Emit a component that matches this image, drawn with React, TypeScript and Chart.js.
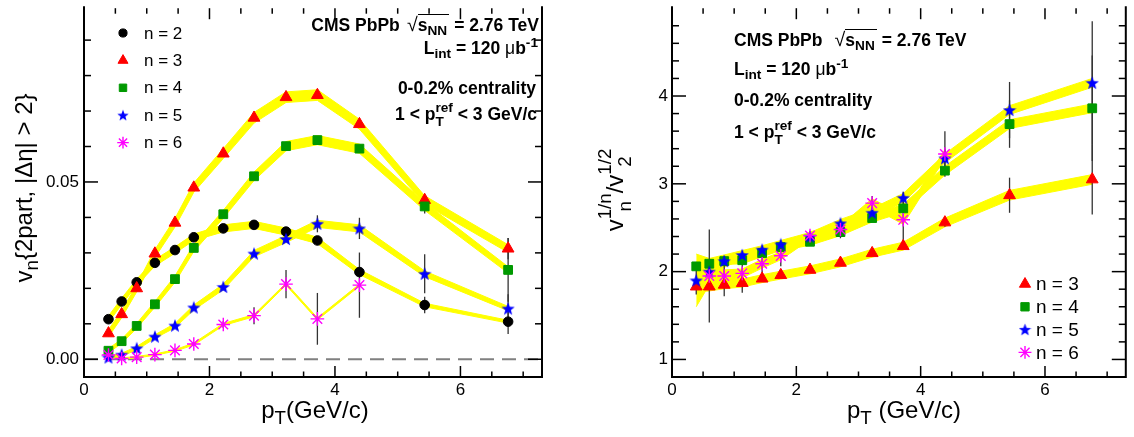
import React, { useEffect, useRef } from 'react';
import { Chart, registerables, PointElement } from 'chart.js';

Chart.register(...registerables);

const FONT = '"Liberation Sans", Arial, Helvetica, sans-serif';

// ---------------- data: left panel, v_n{2part, |dEta|>2} ----------------
const PT = [0.39, 0.6, 0.84, 1.13, 1.45, 1.75, 2.22, 2.71, 3.22, 3.72, 4.39, 5.43, 6.76];
const PT_N6_LEFT = [0.39, 0.6, 0.84, 1.13, 1.45, 1.75, 2.22, 2.71, 3.22, 3.72, 4.39];

const V2 = [0.0113, 0.0163, 0.0217, 0.0272, 0.0308, 0.0344, 0.0369, 0.0379, 0.0360, 0.0335, 0.0246, 0.0153, 0.0106];
const V3 = [0.0073, 0.0127, 0.0200, 0.0298, 0.0385, 0.0484, 0.0580, 0.0681, 0.0739, 0.0745, 0.0663, 0.0449, 0.0312];
const V4 = [0.0024, 0.0051, 0.0094, 0.0155, 0.0226, 0.0314, 0.0409, 0.0516, 0.0601, 0.0618, 0.0594, 0.0431, 0.0252];
const V5 = [0.0005, 0.0013, 0.0031, 0.0064, 0.0095, 0.0146, 0.0204, 0.0298, 0.0339, 0.0382, 0.0369, 0.0241, 0.0143];
const V6 = [0.0012, 0.0002, 0.0006, 0.0013, 0.0025, 0.0043, 0.0098, 0.0123, 0.0212, 0.0114, 0.0209];

const V2_STAT = [0, 0, 0, 0, 0, 0, 0, 0, 0, 0, 0.0008, 0.0023, 0.0035];
const V3_STAT = [0, 0, 0, 0, 0, 0, 0, 0, 0, 0, 0.0005, 0.001, 0.003];
const V4_STAT = [0, 0, 0, 0, 0, 0, 0, 0, 0, 0, 0.001, 0.002, 0.009];
const V5_STAT = [0, 0, 0, 0, 0, 0, 0, 0, 0, 0.0024, 0.003, 0.0055, 0.004];
const V6_STAT = [0, 0, 0, 0, 0, 0, 0.001, 0.0024, 0.004, 0.0073, 0.0092];

const V2_SYS = [0.0009, 0.0009, 0.0009, 0.0009, 0.0009, 0.0009, 0.001, 0.001, 0.001, 0.0009, 0.0007, 0.0005, 0.0004];
const V3_SYS = [0.001, 0.001, 0.001, 0.0011, 0.0012, 0.0013, 0.0014, 0.0015, 0.0015, 0.0015, 0.0014, 0.0012, 0.0011];
const V4_SYS = [0.0006, 0.0006, 0.0007, 0.0008, 0.0009, 0.001, 0.0011, 0.0012, 0.0013, 0.0013, 0.0013, 0.0011, 0.0009];
const V5_SYS = [0.0004, 0.0004, 0.0005, 0.0005, 0.0006, 0.0007, 0.0008, 0.0009, 0.001, 0.001, 0.001, 0.0008, 0.0006];
const V6_SYS = [0.0002, 0.0002, 0.0002, 0.0002, 0.0002, 0.0003, 0.0003, 0.0003, 0.0003, 0.0003, 0.0003];

// ---------------- data: right panel, v_n^{1/n}/v_2^{1/2} ----------------
const PT_N6_RIGHT = [0.6, 0.84, 1.13, 1.45, 1.75, 2.22, 2.71, 3.22, 3.72, 4.39];

const R3 = [1.83, 1.83, 1.85, 1.87, 1.92, 1.96, 2.02, 2.10, 2.21, 2.29, 2.56, 2.87, 3.05];
const R4 = [2.06, 2.09, 2.12, 2.13, 2.21, 2.28, 2.34, 2.45, 2.61, 2.72, 3.15, 3.68, 3.86];
const R5 = [1.90, 2.00, 2.12, 2.19, 2.25, 2.31, 2.40, 2.55, 2.67, 2.84, 3.29, 3.84, 4.15];
const R6 = [1.95, 1.95, 1.98, 2.09, 2.18, 2.41, 2.48, 2.78, 2.59, 3.34];

const R3_STAT = [0, 0, 0, 0, 0, 0, 0, 0, 0, 0, 0.05, 0.2, 0.4];
const R4_STAT = [0, 0, 0, 0, 0, 0, 0, 0, 0, 0, 0, 0.27, 0.6];
const R5_STAT = [0.16, 0, 0, 0, 0, 0, 0, 0, 0, 0.07, 0.1, 0.32, 0.7];
const R6_STAT = [0.53, 0.23, 0.22, 0.16, 0.12, 0.05, 0.1, 0.08, 0.3, 0.26];

const R3_SYS = [0.06, 0.05, 0.045, 0.045, 0.045, 0.045, 0.045, 0.045, 0.045, 0.045, 0.05, 0.055, 0.055];
const R4_SYS = [0.05, 0.045, 0.04, 0.04, 0.04, 0.04, 0.04, 0.04, 0.045, 0.045, 0.05, 0.05, 0.05];
const R5_SYS = [0.30, 0.15, 0.07, 0.05, 0.045, 0.045, 0.045, 0.045, 0.05, 0.05, 0.05, 0.05, 0.05];
const R6_SYS = [0.10, 0.07, 0.05, 0.05, 0.045, 0.045, 0.045, 0.05, 0.05, 0.05];

// ---------------- ticks ----------------
const X_MAJOR = [0, 2, 4, 6];
const X_MINOR = [0.5, 1, 1.5, 2.5, 3, 3.5, 4.5, 5, 5.5, 6.5, 7];
const LEFT_Y_MAJOR = [0, 0.05];
const LEFT_Y_MINOR = [0.01, 0.02, 0.03, 0.04, 0.06, 0.07, 0.08, 0.09];
const RIGHT_Y_MAJOR = [1, 2, 3, 4];
const RIGHT_Y_MINOR = [1.2, 1.4, 1.6, 1.8, 2.2, 2.4, 2.6, 2.8, 3.2, 3.4, 3.6, 3.8, 4.2, 4.4, 4.6, 4.8];
const ZERO_LINE = 0;

const LEFT_SERIES = [
  { n: 2, label: 'n = 2', x: PT, y: V2, stat: V2_STAT, sys: V2_SYS },
  { n: 3, label: 'n = 3', x: PT, y: V3, stat: V3_STAT, sys: V3_SYS },
  { n: 4, label: 'n = 4', x: PT, y: V4, stat: V4_STAT, sys: V4_SYS },
  { n: 5, label: 'n = 5', x: PT, y: V5, stat: V5_STAT, sys: V5_SYS },
  { n: 6, label: 'n = 6', x: PT_N6_LEFT, y: V6, stat: V6_STAT, sys: V6_SYS },
];
const RIGHT_SERIES = [
  { n: 3, label: 'n = 3', x: PT, y: R3, stat: R3_STAT, sys: R3_SYS },
  { n: 4, label: 'n = 4', x: PT, y: R4, stat: R4_STAT, sys: R4_SYS },
  { n: 5, label: 'n = 5', x: PT, y: R5, stat: R5_STAT, sys: R5_SYS },
  { n: 6, label: 'n = 6', x: PT_N6_RIGHT, y: R6, stat: R6_STAT, sys: R6_SYS },
];

// ---------------- styles ----------------
const YELLOW = '#ffff00';
const COLORS: Record<number, string> = { 2: '#000000', 3: '#ff0000', 4: '#009900', 5: '#0000ff', 6: '#ff00ff' };

function starCanvas(size: number, color: string) {
  const c = document.createElement('canvas');
  c.width = size;
  c.height = size;
  const g = c.getContext('2d')!;
  const R = size / 2;
  const r = R * 0.42;
  const cy = R * 1.08;
  g.beginPath();
  for (let i = 0; i < 10; i++) {
    const a = -Math.PI / 2 + (i * Math.PI) / 5;
    const rr = i % 2 === 0 ? R : r;
    g.lineTo(R + rr * Math.cos(a), cy + rr * Math.sin(a));
  }
  g.closePath();
  g.fillStyle = color;
  g.fill();
  return c;
}

function markerStyle(n: number, scale: number, star: HTMLCanvasElement) {
  const color = COLORS[n];
  switch (n) {
    case 2: return { pointStyle: 'circle', radius: 4.8 * scale, borderWidth: 1, color };
    case 3: return { pointStyle: 'triangle', radius: 6.8 * scale, borderWidth: 1, color };
    case 4: return { pointStyle: 'rect', radius: 6.2 * scale, borderWidth: 1, color };
    case 5: return { pointStyle: star, radius: 6.5 * scale, borderWidth: 0, color };
    default: return { pointStyle: 'star', radius: 6.8 * scale, borderWidth: 1.4, color };
  }
}

type PanelCfg = {
  left: number;
  width: number;
  padRight: number;
  yAxisWidth: number;
  yMin: number;
  yMax: number;
  yMajor: number[];
  yMinor: number[];
  yDecimals: number;
  yPad: number;
  series: typeof LEFT_SERIES;
  zeroLine: boolean;
  legend: { mx: number; tx: number; y0: number; dy: number; font: number; scale: number };
};

function buildConfig(cfg: PanelCfg) {
  const star = starCanvas(14, COLORS[5]);
  const starLegend = starCanvas(Math.round(14 * cfg.legend.scale), COLORS[5]);
  const bands: any[] = [];
  const markers: any[] = [];
  cfg.series.forEach((s) => {
    const upper = s.x.map((x, i) => ({ x, y: s.y[i] + s.sys[i] }));
    const lower = s.x.map((x, i) => ({ x, y: s.y[i] - s.sys[i] }));
    bands.push({ data: upper, borderColor: YELLOW, borderWidth: 1, pointRadius: 0, fill: false, tension: 0, order: 20, isBand: true });
    bands.push({ data: lower, borderColor: YELLOW, borderWidth: 1, pointRadius: 0, fill: '-1', backgroundColor: YELLOW, tension: 0, order: 20, isBand: true });
    const st = markerStyle(s.n, 1, star);
    markers.push({
      label: s.label,
      data: s.x.map((x, i) => ({ x, y: s.y[i] })),
      showLine: false,
      pointStyle: st.pointStyle,
      pointRadius: st.radius,
      pointBackgroundColor: st.color,
      pointBorderColor: st.color,
      pointBorderWidth: st.borderWidth,
      order: 10 - s.n,
      clip: false,
    });
  });
  const bandTotal = bands.length;
  let bandCount = 0;

  const panelPlugin = {
    id: 'panelDecor',
    beforeDatasetsDraw(chart: any) {
      bandCount = 0;
      if (cfg.zeroLine) {
        const { ctx, chartArea: a, scales } = chart;
        const py = scales.y.getPixelForValue(ZERO_LINE);
        ctx.save();
        ctx.strokeStyle = '#808080';
        ctx.lineWidth = 2.2;
        ctx.setLineDash([14, 8]);
        ctx.beginPath();
        ctx.moveTo(a.left, py);
        ctx.lineTo(a.right, py);
        ctx.stroke();
        ctx.restore();
      }
    },
    afterDatasetDraw(chart: any, args: any) {
      const ds = chart.data.datasets[args.index];
      if (!ds.isBand) return;
      bandCount++;
      if (bandCount !== bandTotal) return;
      const { ctx, scales } = chart;
      ctx.save();
      ctx.strokeStyle = '#333333';
      ctx.lineWidth = 1.3;
      cfg.series.forEach((s) => {
        s.x.forEach((x, i) => {
          const e = s.stat[i];
          if (!e) return;
          const px = scales.x.getPixelForValue(x);
          ctx.beginPath();
          ctx.moveTo(px, scales.y.getPixelForValue(s.y[i] - e));
          ctx.lineTo(px, scales.y.getPixelForValue(s.y[i] + e));
          ctx.stroke();
        });
      });
      ctx.restore();
    },
    afterDraw(chart: any) {
      const { ctx, chartArea: a, scales } = chart;
      ctx.save();
      ctx.strokeStyle = '#000000';
      ctx.lineWidth = 1.5;
      const line = (x1: number, y1: number, x2: number, y2: number) => {
        ctx.beginPath();
        ctx.moveTo(x1, y1);
        ctx.lineTo(x2, y2);
        ctx.stroke();
      };
      const xTick = (v: number, len: number) => {
        const px = scales.x.getPixelForValue(v);
        line(px, a.bottom, px, a.bottom - len);
        line(px, a.top, px, a.top + len);
      };
      const yTick = (v: number, len: number) => {
        const py = scales.y.getPixelForValue(v);
        line(a.left, py, a.left + len, py);
        line(a.right, py, a.right - len, py);
      };
      X_MAJOR.forEach((v) => xTick(v, 11));
      X_MINOR.forEach((v) => xTick(v, 5.5));
      cfg.yMajor.forEach((v) => yTick(v, 14));
      cfg.yMinor.forEach((v) => yTick(v, 7));
      // frame: the top edge sits just above the visible canvas, as in the reference
      ctx.lineWidth = 2;
      ctx.beginPath();
      ctx.moveTo(a.left, a.top - 2);
      ctx.lineTo(a.left, a.bottom);
      ctx.lineTo(a.right, a.bottom);
      ctx.lineTo(a.right, a.top - 2);
      ctx.stroke();

      // legend
      const L = cfg.legend;
      cfg.series.forEach((s, i) => {
        const y = L.y0 + i * L.dy;
        const st = markerStyle(s.n, L.scale, starLegend);
        const el: any = new PointElement({
          x: L.mx,
          y,
          options: {
            pointStyle: st.pointStyle,
            radius: st.radius,
            borderWidth: st.borderWidth,
            backgroundColor: st.color,
            borderColor: st.color,
            rotation: 0,
            hitRadius: 0,
            hoverRadius: 0,
            hoverBorderWidth: 0,
          },
        } as any);
        el.draw(ctx, undefined);
        ctx.fillStyle = '#000000';
        ctx.font = `${L.font}px ${FONT}`;
        ctx.textAlign = 'left';
        ctx.textBaseline = 'middle';
        ctx.fillText(s.label, L.tx, y + 1);
      });
      ctx.restore();
    },
  };

  return {
    type: 'line' as const,
    data: { datasets: [...bands, ...markers] },
    plugins: [panelPlugin],
    options: {
      responsive: true,
      maintainAspectRatio: false,
      animation: false as const,
      events: [],
      layout: { padding: { left: 0, right: cfg.padRight, top: 0, bottom: 0 } },
      plugins: { legend: { display: false }, tooltip: { enabled: false } },
      scales: {
        x: {
          type: 'linear' as const,
          min: 0,
          max: 7.3,
          grid: { display: false, drawTicks: false },
          border: { display: false },
          afterBuildTicks: (s: any) => { s.ticks = X_MAJOR.map((v) => ({ value: v })); },
          afterFit: (s: any) => { s.height = 60; s.paddingLeft = 0; s.paddingRight = 0; },
          ticks: {
            font: { family: FONT, size: 17 },
            color: '#000000',
            padding: 3,
            maxRotation: 0,
            autoSkip: false,
            callback: (v: any) => String(v),
          },
        },
        y: {
          type: 'linear' as const,
          min: cfg.yMin,
          max: cfg.yMax,
          grid: { display: false, drawTicks: false },
          border: { display: false },
          afterBuildTicks: (s: any) => { s.ticks = cfg.yMajor.map((v) => ({ value: v })); },
          afterFit: (s: any) => { s.width = cfg.yAxisWidth; s.paddingTop = 0; s.paddingBottom = 0; },
          ticks: {
            font: { family: FONT, size: 17 },
            color: '#000000',
            padding: cfg.yPad,
            autoSkip: false,
            callback: (v: any) => Number(v).toFixed(cfg.yDecimals),
          },
        },
      },
    },
  };
}

function Panel({ cfg }: { cfg: PanelCfg }) {
  const ref = useRef<HTMLCanvasElement | null>(null);
  useEffect(() => {
    const chart = new Chart(ref.current as HTMLCanvasElement, buildConfig(cfg) as any);
    return () => chart.destroy();
  }, []);
  return (
    <div style={{ position: 'absolute', left: cfg.left, top: 0, width: cfg.width, height: 437 }}>
      <canvas ref={ref} />
    </div>
  );
}

const LEFT_CFG: PanelCfg = {
  left: 0,
  width: 567,
  padRight: 25,
  yAxisWidth: 84,
  yMin: -0.005,
  yMax: 0.099,
  yMajor: LEFT_Y_MAJOR,
  yMinor: LEFT_Y_MINOR,
  yDecimals: 2,
  yPad: 5,
  series: LEFT_SERIES,
  zeroLine: true,
  legend: { mx: 123, tx: 144, y0: 33, dy: 27.4, font: 17, scale: 0.85 },
};

const RIGHT_CFG: PanelCfg = {
  left: 567,
  width: 567,
  padRight: 3,
  yAxisWidth: 105,
  yMin: 0.8,
  yMax: 5.0,
  yMajor: RIGHT_Y_MAJOR,
  yMinor: RIGHT_Y_MINOR,
  yDecimals: 0,
  yPad: 4,
  series: RIGHT_SERIES,
  zeroLine: false,
  legend: { mx: 458, tx: 469, y0: 284, dy: 22.8, font: 19, scale: 0.95 },
};

const SCRIPT = '0.78em';

const Sub = ({ children }: { children: React.ReactNode }) => (
  <span style={{ fontSize: SCRIPT, position: 'relative', top: '0.3em' }}>{children}</span>
);
const Sup = ({ children }: { children: React.ReactNode }) => (
  <span style={{ fontSize: SCRIPT, position: 'relative', top: '-0.55em' }}>{children}</span>
);
// stacked superscript / subscript
const SubSup = ({ sub, sup }: { sub: string; sup: string }) => (
  <span
    style={{
      display: 'inline-flex',
      flexDirection: 'column',
      fontSize: SCRIPT,
      lineHeight: 1.05,
      position: 'relative',
      top: '-0.62em',
      verticalAlign: 'baseline',
    }}
  >
    <span>{sup}</span>
    <span>{sub}</span>
  </span>
);

const ANNOT_SIZE = 17.5;
const annotBase: React.CSSProperties = {
  position: 'absolute',
  whiteSpace: 'nowrap',
  fontFamily: FONT,
  fontWeight: 'bold',
  fontSize: ANNOT_SIZE,
  lineHeight: 1,
  color: '#000',
};

function Sqrt() {
  return (
    <>
      <span style={{ fontWeight: 'normal', fontSize: '1.12em', marginLeft: '0.12em' }}>√</span>
      <span style={{ borderTop: '1.5px solid #000', paddingRight: '0.12em' }}>
        s<Sub>NN</Sub>
      </span>{' '}
    </>
  );
}

const TITLE_SIZE = 24;
const titleBox = (cx: number, cy: number, rotate: boolean): React.CSSProperties => ({
  position: 'absolute',
  left: cx - 160,
  top: cy - TITLE_SIZE / 2,
  width: 320,
  height: TITLE_SIZE,
  textAlign: 'center',
  whiteSpace: 'nowrap',
  fontFamily: FONT,
  fontSize: TITLE_SIZE,
  lineHeight: `${TITLE_SIZE}px`,
  color: '#000',
  transform: rotate ? 'rotate(-90deg)' : undefined,
});

export default function App() {
  const rightAt = (xr: number, y: number): React.CSSProperties => ({ ...annotBase, right: 1134 - xr, top: y - ANNOT_SIZE / 2 });
  const leftAt = (xl: number, y: number): React.CSSProperties => ({ ...annotBase, left: xl, top: y - ANNOT_SIZE / 2 });
  return (
    <div style={{ position: 'absolute', left: 0, top: 0, width: 1134, height: 437, background: '#fff', overflow: 'hidden' }}>
      <Panel cfg={LEFT_CFG} />
      <Panel cfg={RIGHT_CFG} />

      {/* left panel annotations */}
      <div style={rightAt(539, 24)}>CMS PbPb <Sqrt />= 2.76 TeV</div>
      <div style={rightAt(538, 49)}>L<Sub>int</Sub> = 120 <span style={{ fontWeight: 'normal' }}>μ</span>b<Sup>-1</Sup></div>
      <div style={rightAt(536, 89)}>0-0.2% centrality</div>
      <div style={rightAt(537, 115)}>1 &lt; p<SubSup sub="T" sup="ref" /> &lt; 3 GeV/c</div>

      {/* right panel annotations */}
      <div style={leftAt(734, 39)}>CMS PbPb&nbsp; <Sqrt />= 2.76 TeV</div>
      <div style={leftAt(734, 70)}>L<Sub>int</Sub> = 120 <span style={{ fontWeight: 'normal' }}>μ</span>b<Sup>-1</Sup></div>
      <div style={leftAt(734, 101)}>0-0.2% centrality</div>
      <div style={leftAt(734, 133)}>1 &lt; p<SubSup sub="T" sup="ref" /> &lt; 3 GeV/c</div>

      {/* axis titles */}
      <div style={titleBox(315, 410, false)}>
        p<Sub>T</Sub>(GeV/c)
      </div>
      <div style={titleBox(904, 410, false)}>
        p<Sub>T</Sub> (GeV/c)
      </div>
      <div style={titleBox(24, 188, true)}>
        v<Sub>n</Sub>{'{2part, |Δη| > 2}'}
      </div>
      <div style={titleBox(615, 190, true)}>
        v<SubSup sub="n" sup="1/n" />/v<SubSup sub="2" sup="1/2" />
      </div>
    </div>
  );
}
